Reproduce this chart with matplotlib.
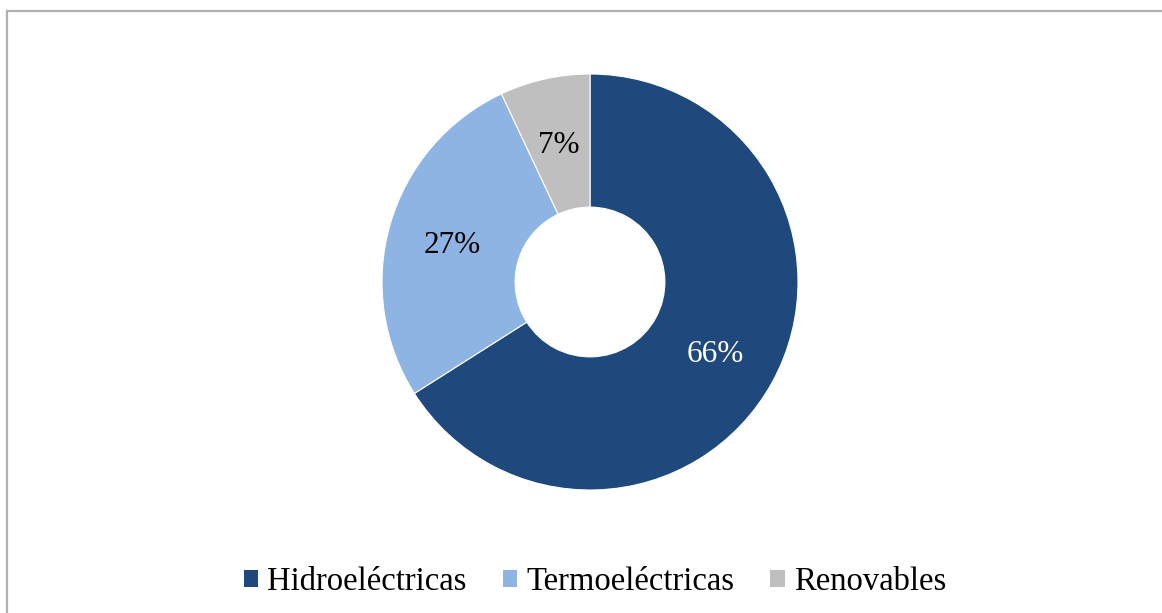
import matplotlib.pyplot as plt
from matplotlib.patches import Patch
from matplotlib.lines import Line2D

plt.rcParams['font.family'] = ['Liberation Serif', 'DejaVu Serif']

categorias = ['Hidroeléctricas', 'Termoeléctricas', 'Renovables']
valores = [66, 27, 7]
colores = ['#1F497D', '#8EB4E3', '#BFBFBF']
color_texto = ['white', 'black', 'black']

W, H = 1162, 613
fig = plt.figure(figsize=(W / 100, H / 100), dpi=100)

# marco gris (solo arriba e izquierda visibles)
fig.add_artist(Line2D([7 / W, 7 / W], [0, 1 - 10.5 / H], color='#B0B0B0', lw=1.6,
                      transform=fig.transFigure))
fig.add_artist(Line2D([7 / W, 1], [1 - 10.5 / H, 1 - 10.5 / H], color='#B0B0B0', lw=1.6,
                      transform=fig.transFigure))

# anillo: centro (590, 282), radio 208 px
ax = fig.add_axes([(590 - 208) / W, (H - 490) / H, 416 / W, 416 / H])
wedges, textos, autotextos = ax.pie(
    valores, colors=colores, startangle=90, counterclock=False, radius=1,
    wedgeprops=dict(width=0.64, edgecolor='white', linewidth=0.8),
    autopct='%d%%', pctdistance=0.69, textprops=dict(fontsize=22.5))
for t, c in zip(autotextos, color_texto):
    t.set_color(c)
    t.set_va('center_baseline')
ax.set_xlim(-1, 1)
ax.set_ylim(-1, 1)
ax.axis('off')

handles = [Patch(facecolor=c, edgecolor='none') for c in colores]
fig.legend(handles, categorias, loc='center', bbox_to_anchor=(595 / W, (H - 582) / H),
           ncol=3, frameon=False, fontsize=23.5, handlelength=0.45, handleheight=0.45,
           handletextpad=0.28, columnspacing=1.1)

fig.savefig('out.png', dpi=100)
